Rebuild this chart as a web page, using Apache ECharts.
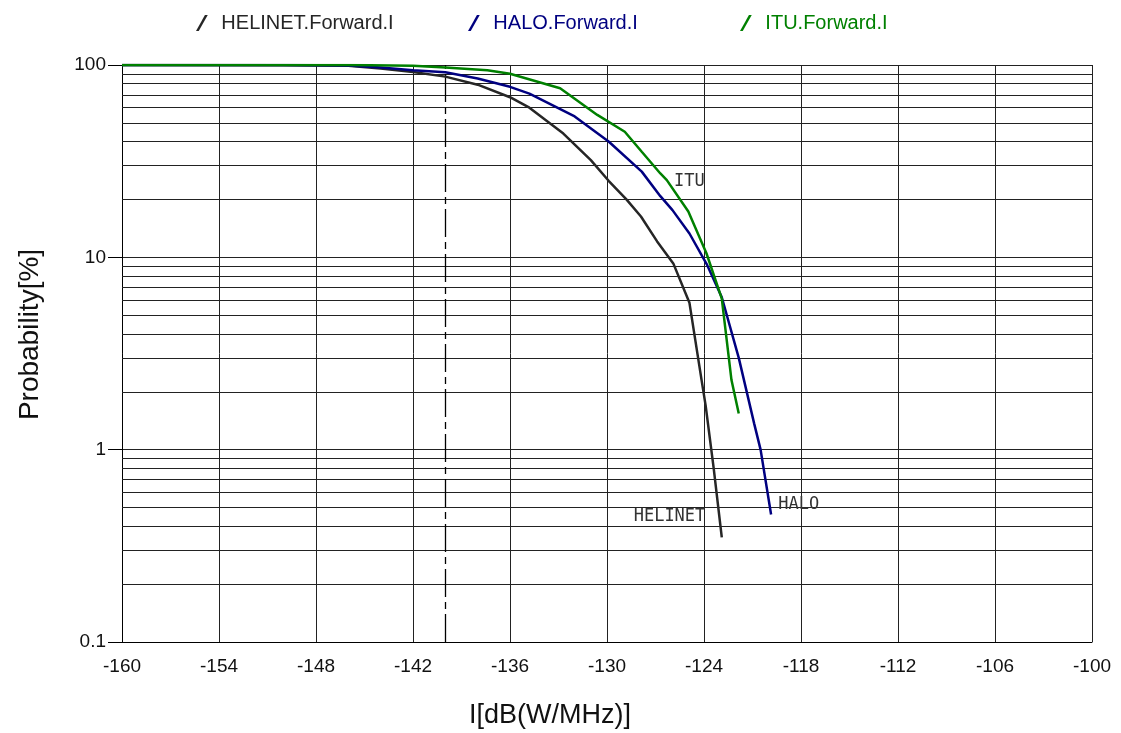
<!DOCTYPE html>
<html>
<head>
<meta charset="utf-8">
<script src="https://cdn.jsdelivr.net/npm/echarts@6/dist/echarts.min.js"></script>
<style>html,body{margin:0;padding:0;background:#fff}#c{width:1121px;height:733px}</style>
</head>
<body>
<div id="c"></div>
<script>
// ---- data ----
var seriesNames = ['HELINET.Forward.I', 'HALO.Forward.I', 'ITU.Forward.I'];
var helinetX = [-160, -150, -146, -144, -142, -140, -138, -136, -134.8, -132.7, -131, -129.9, -128.8, -127.9, -126.9, -125.9, -124.9, -124.15, -123.9, -123.4, -122.9];
var helinetY = [100, 99.8, 99, 96, 92, 87, 79, 68, 60, 44, 32, 25, 20, 16.3, 12.1, 9.3, 5.8, 2.3, 1.7, 0.8, 0.35];
var haloX = [-160, -150, -146, -144, -142, -140, -138, -136, -134.8, -132, -129.9, -127.85, -126.7, -125.95, -124.9, -123.8, -122.9, -121.85, -120.9, -120.5, -119.85];
var haloY = [100, 99.9, 99.3, 97, 94, 91.6, 85, 77, 71, 54, 40, 27.9, 20.8, 17.6, 13.3, 9.1, 6.2, 3.0, 1.37, 1.0, 0.46];
var ituX = [-160, -146, -142, -140, -137.4, -136, -132.9, -130.6, -128.9, -127.85, -126.7, -126.3, -124.97, -123.85, -122.9, -122.3, -121.85];
var ituY = [100, 99.9, 99, 97, 94, 90, 75.7, 55, 45, 35.4, 27.3, 25.2, 17.3, 10.5, 6.1, 2.3, 1.54];
var xTicks = {min: -160, max: -100, interval: 6};
var yMajor = [0.1, 1, 10, 100];
var yMinor = [0.2, 0.3, 0.4, 0.5, 0.6, 0.7, 0.8, 0.9, 2, 3, 4, 5, 6, 7, 8, 9, 20, 30, 40, 50, 60, 70, 80, 90];
var refLineX = -140;
var curveLabels = [
  {text: 'ITU', x: -125.85, y: 24.9},
  {text: 'HALO', x: -119.4, y: 0.52},
  {text: 'HELINET', x: -128.35, y: 0.45}
];
var colors = ['#262626', '#000080', '#008000'];
var legendLefts = [191, 463, 735];

function zip(xs, ys) { return xs.map(function (x, i) { return [x, ys[i]]; }); }

var FONT = 'Liberation Sans, Arial, sans-serif';
var chart = echarts.init(document.getElementById('c'), null, {renderer: 'canvas'});

var lineSeries = [zip(helinetX, helinetY), zip(haloX, haloY), zip(ituX, ituY)].map(function (d, i) {
  return {
    name: seriesNames[i], type: 'line', data: d, symbol: 'none', smooth: false,
    lineStyle: {color: colors[i], width: 2.5}, itemStyle: {color: colors[i]},
    z: 5, animation: false
  };
});

var helperSeries = {
  name: '_grid', type: 'line', data: [], silent: true, animation: false,
  markLine: {
    silent: true, symbol: 'none', animation: false,
    label: {show: false},
    data: yMinor.map(function (v) { return {yAxis: v, lineStyle: {color: '#222', width: 1, type: 'solid'}}; })
      .concat([{xAxis: refLineX, lineStyle: {color: '#000', width: 1.3, type: [28, 5, 7, 5]}}])
  },
  markPoint: {
    symbol: 'circle', symbolSize: 0, silent: true, animation: false,
    data: curveLabels.map(function (c) {
      return {
        coord: [c.x, c.y],
        label: {show: true, formatter: c.text, position: 'right', distance: 0,
          fontFamily: 'DejaVu Sans Mono, monospace', fontSize: 17, color: '#333'}
      };
    })
  }
};

var legendIcon = 'path://M0,15 L2.6,15 L11,0 L8.4,0 Z';

chart.setOption({
  animation: false,
  backgroundColor: '#fff',
  textStyle: {fontFamily: FONT},
  legend: seriesNames.map(function (n, i) {
    return {
      top: 8, left: legendLefts[i], itemWidth: 17, itemHeight: 16,
      textStyle: {fontFamily: FONT, fontSize: 20, color: colors[i], padding: [0, 0, 0, 6]},
      data: [{name: n, icon: legendIcon, itemStyle: {color: colors[i]}}]
    };
  }),
  grid: {left: 122, right: 29, top: 65, bottom: 91, containLabel: false, outerBoundsMode: 'none'},
  xAxis: {
    type: 'value', min: xTicks.min, max: xTicks.max, interval: xTicks.interval,
    name: 'I[dB(W/MHz)]', nameLocation: 'middle', nameGap: 60,
    nameTextStyle: {fontFamily: FONT, fontSize: 27, color: '#111', padding: [0, 114, 0, 0]},
    axisLine: {show: true, lineStyle: {color: '#000', width: 1}},
    axisTick: {show: false},
    axisLabel: {fontFamily: FONT, fontSize: 19, color: '#111', margin: 15},
    splitLine: {show: true, lineStyle: {color: '#222', width: 1}}
  },
  yAxis: {
    type: 'log', logBase: 10, min: yMajor[0], max: yMajor[yMajor.length - 1],
    name: 'Probability[%]', nameLocation: 'middle', nameGap: 78, nameRotate: 90,
    nameTextStyle: {fontFamily: FONT, fontSize: 28, color: '#111', padding: [0, 0, 0, 38]},
    axisLine: {show: true, lineStyle: {color: '#000', width: 1}},
    axisTick: {show: true, inside: false, length: 14, lineStyle: {color: '#000'}},
    axisLabel: {fontFamily: FONT, fontSize: 19, color: '#111', margin: 16,
      formatter: function (v) { return String(+v.toPrecision(3)); }},
    splitLine: {show: true, lineStyle: {color: '#222', width: 1}}
  },
  series: lineSeries.concat([helperSeries])
});
</script>
</body>
</html>
